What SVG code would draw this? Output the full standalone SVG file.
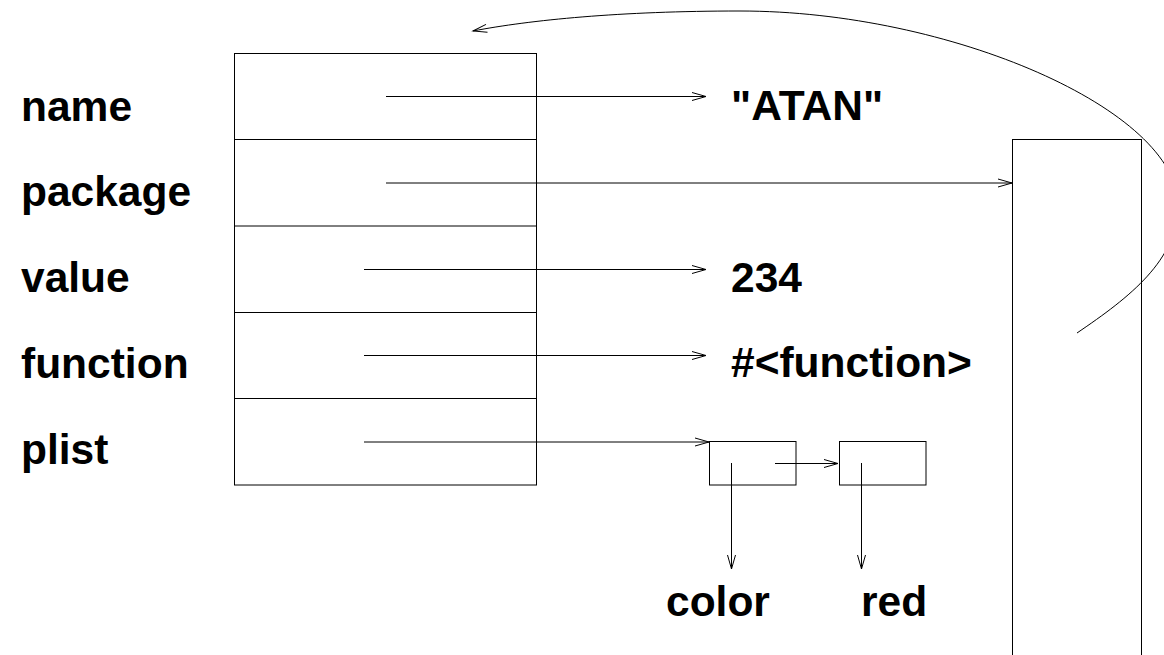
<svg xmlns="http://www.w3.org/2000/svg" width="1164" height="655" viewBox="0 0 1164 655">
<style>
text{font-family:"Liberation Sans",Arial,sans-serif;font-weight:bold;font-size:42.5px;fill:#000}
.box{fill:none;stroke:#000;stroke-width:1}
.c{fill:none;stroke:#000;stroke-width:1;marker-end:url(#ah)}
</style>
<defs>
<marker id="ah" markerUnits="userSpaceOnUse" viewBox="-16 -6 18 12" refX="0" refY="0" markerWidth="18" markerHeight="12" orient="auto" overflow="visible">
<path d="M-14,-4 L0,0 L-14,4" fill="none" stroke="#000" stroke-width="1"/>
</marker>
</defs>
<g id="labels">
<text x="21" y="121">name</text>
<text x="21" y="206">package</text>
<text x="21" y="292">value</text>
<text x="21" y="378">function</text>
<text x="21" y="464">plist</text>
</g>
<g id="symbol">
<rect class="box" x="234.5" y="53.5" width="302" height="431.5"/>
<line class="box" x1="234.5" y1="139.5" x2="536.5" y2="139.5"/>
<line class="box" x1="234.5" y1="226" x2="536.5" y2="226"/>
<line class="box" x1="234.5" y1="312.5" x2="536.5" y2="312.5"/>
<line class="box" x1="234.5" y1="398.5" x2="536.5" y2="398.5"/>
</g>
<g id="package-box">
<rect class="box" x="1012.5" y="139.5" width="129" height="540"/>
</g>
<g id="atan"><text x="731" y="120">"ATAN"</text></g>
<g id="val"><text x="731" y="292">234</text></g>
<g id="fn"><text x="731" y="377">#&lt;function&gt;</text></g>
<g id="cons1"><rect class="box" x="709.5" y="441.5" width="86.5" height="43.5"/></g>
<g id="cons2"><rect class="box" x="839.5" y="441.5" width="86.5" height="43.5"/></g>
<g id="color"><text x="666" y="616">color</text></g>
<g id="red"><text x="861" y="616">red</text></g>
<g id="connectors">
<line class="c" x1="386" y1="96.5" x2="706" y2="96.5"/>
<line class="c" x1="386" y1="183" x2="1012" y2="183"/>
<line class="c" x1="364" y1="269.5" x2="706" y2="269.5"/>
<line class="c" x1="364" y1="355.5" x2="706" y2="355.5"/>
<line class="c" x1="364" y1="442" x2="709" y2="442"/>
<line class="c" x1="775" y1="463.5" x2="838" y2="463.5"/>
<line class="c" x1="731.5" y1="463" x2="731.5" y2="569"/>
<line class="c" x1="861.5" y1="463" x2="861.5" y2="569"/>
<path class="c" d="M1077,333 C1130,297 1178,260 1178,205 C1178,110 950,11 740,11 C620,11 530,20 473,31"/>
</g>
</svg>
